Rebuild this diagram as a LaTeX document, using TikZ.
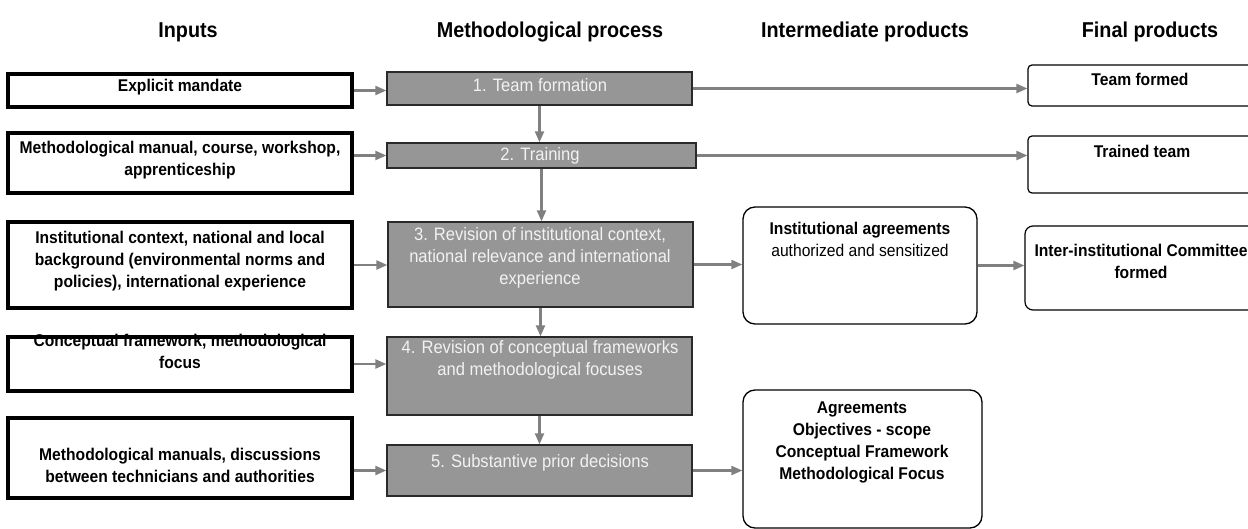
\documentclass[tikz,border=0pt]{standalone}
\usepackage{fontspec}
\setmainfont{Liberation Sans}[FakeStretch=0.92]
\usetikzlibrary{fit,arrows.meta}
\definecolor{arrgray}{HTML}{808080}
\definecolor{procfill}{HTML}{969696}
\definecolor{procline}{HTML}{2A2A2A}
\definecolor{proctext}{HTML}{F2F2F2}
\tikzset{
  inbox/.style={draw=black, line width=4pt, inner sep=0pt},
  procbox/.style={draw=procline, line width=1.3pt, fill=procfill, inner sep=0pt},
  outbox/.style={draw=black, line width=1.2pt, inner sep=0pt, rounded corners=4pt, fill=white},
  bigbox/.style={draw=black, line width=1.3pt, inner sep=0pt, rounded corners=12pt, fill=white},
  intext/.style={align=center, inner sep=0pt, font=\fontsize{17}{22}\selectfont\bfseries, text=black},
  proctxt/.style={align=center, inner sep=0pt, font=\fontsize{18}{22}\selectfont, text=proctext},
  outtext/.style={align=center, inner sep=0pt, font=\fontsize{17}{22}\selectfont\bfseries, text=black},
  header/.style={inner sep=0pt, font=\fontsize{21.5}{24}\selectfont\bfseries},
  arr/.style={draw=arrgray, line width=2.2pt, -{Triangle[length=11pt,width=9pt]}, arrgray}
}
\begin{document}
\begin{tikzpicture}[x=1pt,y=-1pt]
\useasboundingbox (0,0) rectangle (1248,529);
\clip (0,0) rectangle (1248,529);
% headers
\node[header] (h1) at (188,32) {Inputs};
\node[header] (h2) at (550,32) {Methodological process};
\node[header] (h3) at (865,32) {Intermediate products};
\node[header] (h4) at (1150,32) {Final products};
% input texts (drawn first; the heavy borders lie over them)
\node[intext] (in1t) at (180,87) {Explicit mandate};
\node[intext] (in2t) at (180,160) {Methodological manual, course, workshop,\\apprenticeship};
\node[intext] (in3t) at (180,261) {Institutional context, national and local\\background (environmental norms and\\policies), international experience};
\node[intext] (in4t) at (180,351) {Conceptual framework, methodological\\focus};
\node[intext] (in5t) at (180,465) {Methodological manuals, discussions\\between technicians and authorities};
% inputs
\node[inbox, fit={(8,74) (352,107)}] (in1) {};
\node[inbox, fit={(8,133) (352,193)}] (in2) {};
\node[inbox, fit={(8,222) (352,308)}] (in3) {};
\node[inbox, fit={(8,337) (352,391)}] (in4) {};
\node[inbox, fit={(8,418) (352,498)}] (in5) {};
% process
\node[procbox, fit={(387,72) (692,105)}] (p1) {};
\node[procbox, fit={(387,143) (696,168)}] (p2) {};
\node[procbox, fit={(388,222) (693,307)}] (p3) {};
\node[procbox, fit={(387,337) (692,415)}] (p4) {};
\node[procbox, fit={(387,445) (692,496)}] (p5) {};
\node[proctxt] (p1t) at (540,85) {1. Team formation};
\node[proctxt] (p2t) at (540,156) {2. Training};
\node[proctxt] (p3t) at (540,258) {3. Revision of institutional context,\\national relevance and international\\experience};
\node[proctxt] (p4t) at (540,360) {4. Revision of conceptual frameworks\\and methodological focuses};
\node[proctxt] (p5t) at (540,463) {5. Substantive prior decisions};
% intermediate
\node[bigbox, fit={(743,207) (977,324)}] (i1) {};
\node[bigbox, fit={(743,390) (982,528)}] (i2) {};
\node[outtext] (i1t) at (860,239) {Institutional agreements\\{\mdseries authorized and sensitized}};
\node[outtext] (i2t) at (862,442) {Agreements\\Objectives - scope\\Conceptual Framework\\Methodological Focus};
% final
\node[outbox, fit={(1028,65) (1252,106)}] (f1) {};
\node[outbox, fit={(1028,136) (1252,193)}] (f2) {};
\node[outbox, rounded corners=8pt, fit={(1025,226) (1262,310)}] (f3) {};
\node[outtext] (f1t) at (1140,79) {Team formed};
\node[outtext] (f2t) at (1142,151) {Trained team};
\node[outtext] (f3t) at (1141,261) {Inter-institutional Committee\\formed};
% arrows inputs -> process
\draw[arr] (in1.east) -- (in1.east -| p1.west);
\draw[arr] (p2.west -| in2.east) -- (p2.west);
\draw[arr] (in3.east) -- (in3.east -| p3.west);
\draw[arr] (in4.east) -- (in4.east -| p4.west);
\draw[arr] (p5.west -| in5.east) -- (p5.west);
% vertical
\draw[arr] (p1.south) -- (p1.south |- p2.north);
\draw[arr] (p2.south) -- (p2.south |- p3.north);
\draw[arr] (p3.south) -- (p3.south |- p4.north);
\draw[arr] (p4.south) -- (p4.south |- p5.north);
% to products
\draw[arr] (p1.east) -- (p1.east -| f1.west);
\draw[arr] (p2.east) -- (p2.east -| f2.west);
\draw[arr] (p3.east) -- (p3.east -| i1.west);
\draw[arr] (i1.east) -- (i1.east -| f3.west);
\draw[arr] (p5.east) -- (p5.east -| i2.west);
\end{tikzpicture}
\end{document}
